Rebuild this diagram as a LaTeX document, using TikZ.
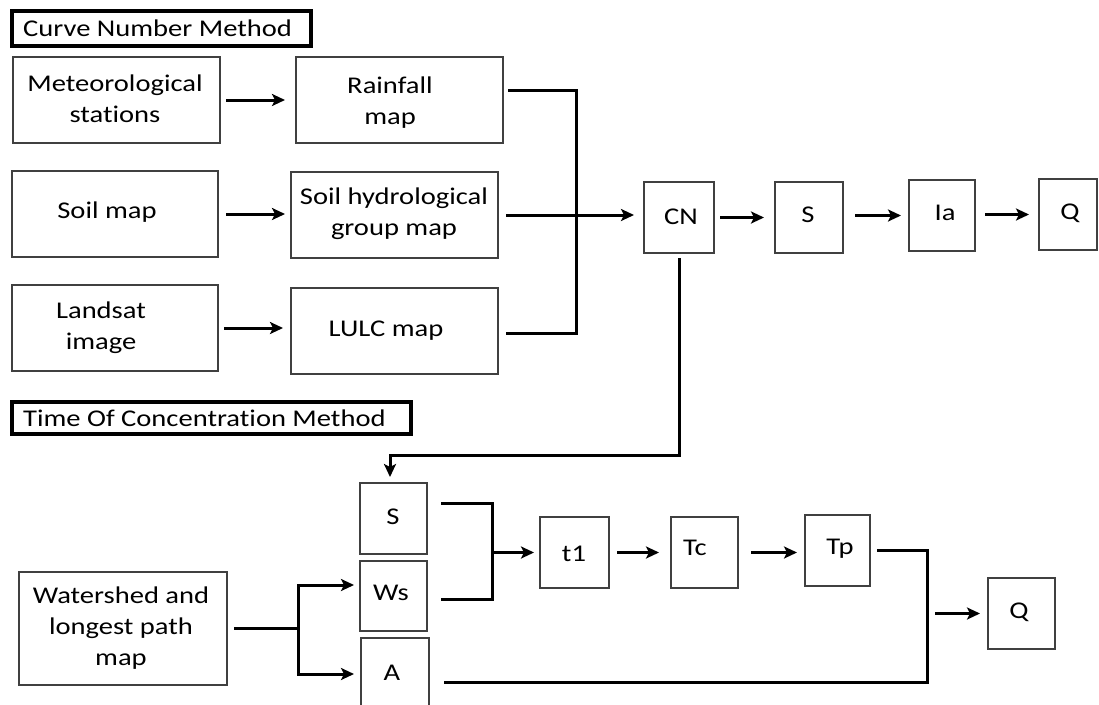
\documentclass[tikz,border=0pt]{standalone}
\usepackage{fontspec}
\setmainfont[FakeStretch=1.19, Ligatures=NoCommon]{Carlito}
\usetikzlibrary{arrows.meta,calc}
\definecolor{boxline}{HTML}{404040}
\tikzset{
  box/.style={draw=boxline, line width=1.4pt, anchor=north west, inner sep=0pt, outer sep=0pt},
  headbox/.style={draw=black, line width=3.4pt, anchor=north west, inner sep=0pt, outer sep=0pt},
  txt/.style={align=center, inner sep=0pt, font=\fontsize{24}{31}\selectfont},
  wire/.style={line width=3pt, line join=miter, line cap=rect},
  arr/.style={wire, line cap=butt, -{Stealth[length=13pt,width=12pt,inset=3pt]}},
}
\begin{document}
\begin{tikzpicture}[x=1pt, y=-1pt]
\useasboundingbox (0,0) rectangle (1099,704);

% ---------- section headings ----------
\node[headbox, minimum width=299pt, minimum height=35pt] (h1) at (12,11) {};
\node[txt, anchor=west] (h1-l) at (23,28.5) {Curve Number Method};
\node[headbox, minimum width=399pt, minimum height=32pt] (h2) at (12,402) {};
\node[txt, anchor=west] (h2-l) at (23,418) {Time Of Concentration Method};

% ---------- curve number method ----------
\node[box, minimum width=207pt, minimum height=86pt] (met) at (13,57) {};
\node[txt] (met-l) at (115,99) {Meteorological\\stations};
\node[box, minimum width=207pt, minimum height=86pt] (rain) at (296,57) {};
\node[txt] (rain-l) at (390,103) {Rainfall\\map};
\node[box, minimum width=206pt, minimum height=86pt] (soil) at (12,171) {};
\node[txt] (soil-l) at (107,212) {Soil map};
\node[box, minimum width=207pt, minimum height=86pt] (shg) at (291,172) {};
\node[txt] (shg-l) at (394,214) {Soil hydrological\\group map};
\node[box, minimum width=206pt, minimum height=86pt] (land) at (12,285) {};
\node[txt] (land-l) at (101,328) {Landsat\\image};
\node[box, minimum width=207pt, minimum height=86pt] (lulc) at (291,288) {};
\node[txt] (lulc-l) at (386,331) {LULC map};

\node[box, minimum width=70pt, minimum height=71pt] (cn) at (644,182) {};
\node[txt] (cn-l) at (681,217) {CN};
\node[box, minimum width=68pt, minimum height=71pt] (s1) at (775,182) {};
\node[txt] (s1-l) at (808,215) {S};
\node[box, minimum width=66pt, minimum height=71pt] (ia) at (909,180) {};
\node[txt] (ia-l) at (945,213) {Ia};
\node[box, minimum width=58pt, minimum height=71pt] (q1) at (1039,179) {};
\node[txt] (q1-l) at (1070,213) {Q};

\draw[arr, shorten <=6pt, shorten >=11pt] (met.east) -- (met.east -| rain.west);
\draw[arr, shorten <=8pt, shorten >=6pt] (soil.east) -- (soil.east -| shg.west);
\draw[arr, shorten <=6pt, shorten >=8pt] (land.east) -- (land.east -| lulc.west);

% merge of the three maps into CN
\coordinate (busT) at (576,90);
\coordinate (busB) at (576,333);
\draw[wire] (rain.east |- busT) ++(6,0) -- (busT) -- (busB) -- ($(lulc.east |- busB)+(9,0)$);
\draw[arr, shorten <=8pt, shorten >=10pt] (shg.east) -- (shg.east -| cn.west);

\draw[arr, shorten <=6pt, shorten >=11pt] (cn.east |- s1.west) -- (s1.west);
\draw[arr, shorten <=12pt, shorten >=8pt] (s1.east |- ia.west) -- (ia.west);
\draw[arr, shorten <=10pt, shorten >=10pt] (ia.east |- q1.west) -- (q1.west);

% ---------- time of concentration method ----------
\node[box, minimum width=67pt, minimum height=71pt] (s2) at (360,483) {};
\node[txt] (s2-l) at (393,517) {S};
\node[box, minimum width=67pt, minimum height=70pt] (ws) at (360,561) {};
\node[txt] (ws-l) at (391,593) {Ws};
\node[box, minimum width=68pt, minimum height=80pt] (a) at (361,638) {};
\node[txt] (a-l) at (392,673) {A};
\node[box, minimum width=208pt, minimum height=113pt] (wsh) at (19,572) {};
\node[txt] (wsh-l) at (121,628) {Watershed and\\longest path\\map};

\node[box, minimum width=69pt, minimum height=71pt] (t1) at (540,517) {};
\node[txt] (t1-l) at (574,554) {t1};
\node[box, minimum width=67pt, minimum height=71pt] (tc) at (671,517) {};
\node[txt] (tc-l) at (695,548) {Tc};
\node[box, minimum width=65pt, minimum height=71pt] (tp) at (805,515) {};
\node[txt] (tp-l) at (840,549) {Tp};
\node[box, minimum width=67pt, minimum height=71pt] (q2) at (988,578) {};
\node[txt] (q2-l) at (1019,612) {Q};

% CN feeds the slope box
\coordinate (fb) at (390,455);
\draw[arr, shorten >=6pt] (cn.south) ++(0,5) |- (fb) -- (fb |- s2.north);

% watershed map splits into Ws and A
\coordinate (fkT) at (298,585);
\coordinate (fkB) at (298,674);
\draw[wire] (wsh.east) ++(8,0) -- (wsh.east -| fkT);
\draw[arr, shorten >=6pt] (fkB) -- (fkT) -- (fkT -| ws.west);
\draw[arr, shorten >=7pt] (fkT) -- (fkB) -- (fkB -| a.west);

% S and Ws combine into t1
\coordinate (jT) at (492,503);
\coordinate (jB) at (492,599);
\draw[wire] (s2.east |- jT) ++(15,0) -- (jT) -- (jB) -- ($(ws.east |- jB)+(15,0)$);
\draw[arr, shorten >=6pt] (jT |- t1.west) -- (t1.west);

\draw[arr, shorten <=8pt, shorten >=12pt] (t1.east) -- (t1.east -| tc.west);
\draw[arr, shorten <=13pt, shorten >=8pt] (tc.east) -- (tc.east -| tp.west);

% Tp and A combine into Q
\coordinate (rT) at (927,550);
\coordinate (rB) at (927,682);
\draw[wire] (tp.east |- rT) ++(8,0) -- (rT) -- (rB) -- ($(a.east |- rB)+(16,0)$);
\draw[arr, shorten <=8pt, shorten >=8pt] (rT |- q2.west) -- (q2.west);
\end{tikzpicture}
\end{document}
